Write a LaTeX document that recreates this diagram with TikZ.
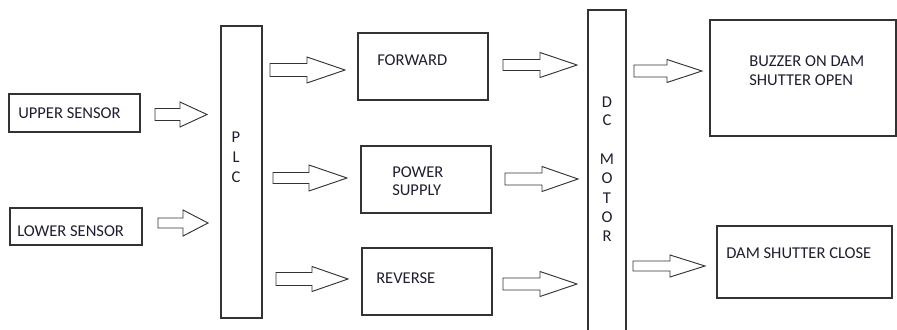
\documentclass[tikz,border=0pt]{standalone}
\usepackage{fontspec}
\setmainfont{Carlito}
\usetikzlibrary{fit}
\definecolor{txt}{HTML}{1E1E30}
\definecolor{ln}{HTML}{333333}
\tikzset{
  box/.style={draw=ln, line width=0.8pt, inner sep=0pt, fill=none},
  lbl/.style={anchor=west, inner sep=0pt, text=txt, font=\fontsize{12.4}{14}\selectfont},
  vlbl/.style={anchor=center, inner sep=0pt, text=txt, font=\fontsize{12.4}{14}\selectfont},
  barrowstyle/.style={draw=ln, line width=0.7pt, line join=miter, fill=white}
}
% block arrow: #1 tail x, #2 neck x, #3 tip x, #4 centre y, #5 shaft half, #6 head half
\newcommand{\barrow}[6]{%
  \draw[barrowstyle] (#1,#4-#5) -- (#2,#4-#5) -- (#2,#4-#6) -- (#3,#4) -- (#2,#4+#6) -- (#2,#4+#5) -- (#1,#4+#5) -- cycle;}
\begin{document}
\begin{tikzpicture}[x=0.75pt,y=-0.75pt]
\useasboundingbox (0,0) rectangle (897,329);
% boxes
\node[box, fit={(9,94)(140,132)}] (upper) {};
\node[box, fit={(10,208)(142,245)}] (lower) {};
\node[box, fit={(221,26)(262,318)}] (plc) {};
\node[box, fit={(358,33)(488,100)}] (fwd) {};
\node[box, fit={(361,146)(491,213)}] (pwr) {};
\node[box, fit={(362,248)(492,315)}] (rev) {};
\node[box, fit={(588,10)(626,335)}] (dc) {};
\node[box, fit={(710,20)(896,136)}] (buz) {};
\node[box, fit={(717,226)(892,298)}] (close) {};
% labels
\node[lbl] (tupper) at (18,113) {UPPER SENSOR};
\node[lbl] (tlower) at (17,231) {LOWER SENSOR};
\node[lbl] (tfwd) at (377,60) {FORWARD};
\node[lbl] (tpwr1) at (392,172) {POWER};
\node[lbl] (tpwr2) at (392,190) {SUPPLY};
\node[lbl] (trev) at (376,278) {REVERSE};
\node[lbl] (tbuz1) at (749,61) {BUZZER ON DAM};
\node[lbl] (tbuz2) at (749,80) {SHUTTER OPEN};
\node[lbl] (tclose) at (726,253) {DAM SHUTTER CLOSE};
\node[vlbl] (p1) at (236,137) {P};
\node[vlbl] (p2) at (236,157) {L};
\node[vlbl] (p3) at (236,177) {C};
\node[vlbl] (d1) at (607,102) {D};
\node[vlbl] (d2) at (607,120) {C};
\node[vlbl] (d3) at (607,159) {M};
\node[vlbl] (d4) at (607,178) {O};
\node[vlbl] (d5) at (607,198) {T};
\node[vlbl] (d6) at (607,217) {O};
\node[vlbl] (d7) at (607,236) {R};
% block arrows
\barrow{155}{180}{207}{114.5}{6}{12.5}
\barrow{158}{183}{208}{223}{5}{13}
\barrow{270}{307}{345}{70}{6.5}{13}
\barrow{273}{309}{347}{178}{5.5}{13}
\barrow{276}{312}{348}{279}{6.5}{12.5}
\barrow{503}{540}{577}{65}{5.5}{12.5}
\barrow{505}{542}{578}{179}{6}{12.5}
\barrow{503}{540}{577}{284}{6}{12.5}
\barrow{634}{667}{702}{71}{6}{11.5}
\barrow{633}{670}{705}{266}{5}{11}
\end{tikzpicture}
\end{document}
